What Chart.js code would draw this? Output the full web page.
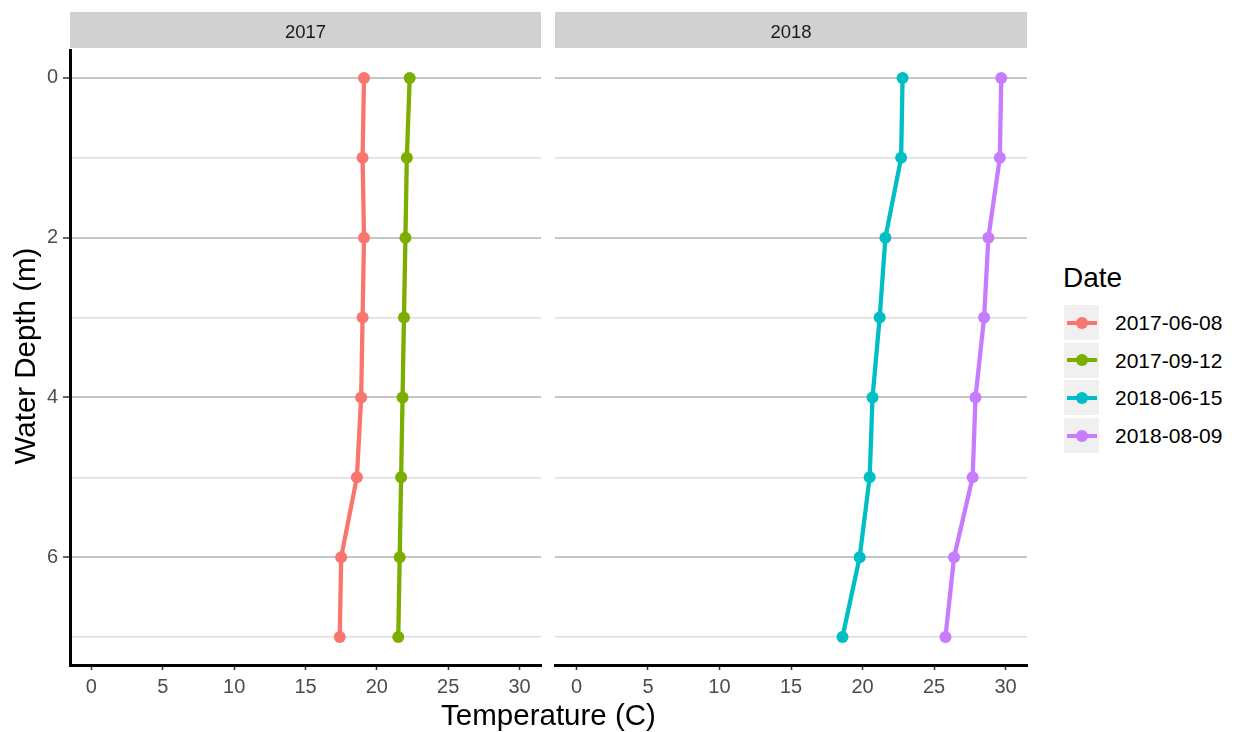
<!DOCTYPE html>
<html>
<head>
<meta charset="utf-8">
<script src="https://cdn.jsdelivr.net/npm/chart.js@4.4.0/dist/chart.umd.min.js"></script>
<style>
  body { margin: 0; width: 1234px; height: 732px; background: #fff; position: relative; overflow: hidden;
         font-family: "Liberation Sans", Arial, Helvetica, sans-serif; }
  canvas { position: absolute; top: 0; }
  .strip { position: absolute; top: 12px; height: 36px; background: #d1d1d1; color: #1a1a1a;
           font-size: 18.5px; text-align: center; line-height: 36px; }
  .strip span { position: relative; top: 2px; }
  .xtitle { position: absolute; left: 70px; width: 957px; top: 700px; height: 30px; line-height: 30px;
            font-size: 29.5px; text-align: center; color: #000; }
  .ytitle { position: absolute; left: -175px; top: 336px; width: 400px; height: 40px; line-height: 40px;
            font-size: 29.5px; text-align: center; color: #000; transform: rotate(-90deg); }
  .ltitle { position: absolute; left: 1063px; top: 264px; font-size: 28px; line-height: 28px; color: #000; }
  .lkey { position: absolute; left: 1064px; width: 35px; height: 35px; background: #f0f0f0; }
  .lkey .ln { position: absolute; left: 3px; width: 30px; top: 15.5px; height: 4px; }
  .lkey .pt { position: absolute; left: 11.5px; top: 11.5px; width: 12px; height: 12px; border-radius: 50%; }
  .llab { position: absolute; left: 1115px; height: 35px; line-height: 35px; font-size: 21px; color: #000; }
</style>
</head>
<body>
<canvas id="panel2017" width="547" height="732" style="left:0px;width:547px;height:732px"></canvas>
<canvas id="panel2018" width="484" height="732" style="left:549px;width:484px;height:732px"></canvas>
<div class="strip" style="left:70px;width:471px"><span id="strip0"></span></div>
<div class="strip" style="left:555px;width:472px"><span id="strip1"></span></div>
<div class="xtitle">Temperature (C)</div>
<div class="ytitle">Water Depth (m)</div>
<div class="ltitle">Date</div>
<div id="legend"></div>
<script>
// depth profiles
const depths = [0, 1, 2, 3, 4, 5, 6, 7];
const years = ["2017", "2018"];
const dates = ["2017-06-08", "2017-09-12", "2018-06-15", "2018-08-09"];
const temp20170608 = [19.1, 19.0, 19.1, 19.0, 18.9, 18.6, 17.5, 17.4];
const temp20170912 = [22.3, 22.1, 22.0, 21.9, 21.8, 21.7, 21.6, 21.5];
const temp20180615 = [22.8, 22.7, 21.6, 21.2, 20.7, 20.5, 19.8, 18.6];
const temp20180809 = [29.7, 29.6, 28.8, 28.5, 27.9, 27.7, 26.4, 25.8];
const colors = ["#F8766D", "#7CAE00", "#00BFC4", "#C77CFF"];
const xTicks = [0, 5, 10, 15, 20, 25, 30];
const yTicks = [0, 1, 2, 3, 4, 5, 6, 7];
const yLabels = ["0", "", "2", "", "4", "", "6", ""];

const tickFont = { family: "'Liberation Sans', Arial, sans-serif", size: 20 };

function makeDataset(label, temps, color) {
    return {
        label: label,
        data: depths.map((d, i) => ({ x: temps[i], y: d })),
        showLine: true,
        borderColor: color,
        backgroundColor: color,
        borderWidth: 4.3,
        pointRadius: 6,
        pointHoverRadius: 6,
        pointBorderWidth: 0,
        pointBackgroundColor: color
    };
}

function makePanel(id, datasets, showY) {
    const ctx = document.getElementById(id).getContext("2d");
    return new Chart(ctx, {
        type: "scatter",
        data: { datasets: datasets },
        options: {
            responsive: false,
            animation: false,
            layout: { padding: { top: 50, right: 0, bottom: 0, left: 0 } },
            plugins: { legend: { display: false }, tooltip: { enabled: false } },
            scales: {
                x: {
                    type: "linear",
                    min: -1.5,
                    max: 31.5,
                    afterBuildTicks: s => { s.ticks = xTicks.map(v => ({ value: v })); },
                    afterFit: s => { s.height = 67; },
                    grid: { drawOnChartArea: false, drawTicks: true, tickLength: 5, tickColor: "#333", tickWidth: 1.5 },
                    border: { display: true, color: "#000", width: 3 },
                    ticks: { color: "#4d4d4d", font: tickFont, padding: 5, maxRotation: 0, autoSkip: false }
                },
                y: {
                    type: "linear",
                    reverse: true,
                    min: -0.35,
                    max: 7.35,
                    afterBuildTicks: s => { s.ticks = yTicks.map(v => ({ value: v })); },
                    afterFit: s => { s.width = showY ? 70 : 0; },
                    grid: {
                        drawOnChartArea: true,
                        drawTicks: showY,
                        tickLength: 7,
                        color: c => (c.tick && c.tick.value % 2 === 0) ? "#c6c6c6" : "#dddddd",
                        lineWidth: c => (c.tick && c.tick.value % 2 === 0) ? 2 : 1.5,
                        tickColor: c => (c.tick && c.tick.value % 2 === 0) ? "#333" : "rgba(0,0,0,0)",
                        tickWidth: 1.5
                    },
                    border: { display: showY, color: "#000", width: 3 },
                    ticks: {
                        display: showY,
                        color: "#4d4d4d",
                        font: tickFont,
                        padding: 5,
                        autoSkip: false,
                        callback: (v, i) => yLabels[i]
                    }
                }
            }
        }
    });
}

makePanel("panel2017", [
    makeDataset(dates[0], temp20170608, colors[0]),
    makeDataset(dates[1], temp20170912, colors[1])
], true);

makePanel("panel2018", [
    makeDataset(dates[2], temp20180615, colors[2]),
    makeDataset(dates[3], temp20180809, colors[3])
], false);

document.getElementById("strip0").textContent = years[0];
document.getElementById("strip1").textContent = years[1];

// legend built from the same arrays
const legend = document.getElementById("legend");
dates.forEach((d, i) => {
    const top = 305 + i * 37.7;
    const key = document.createElement("div");
    key.className = "lkey";
    key.style.top = top + "px";
    key.innerHTML = `<div class="ln" style="background:${colors[i]}"></div><div class="pt" style="background:${colors[i]}"></div>`;
    legend.appendChild(key);
    const lab = document.createElement("div");
    lab.className = "llab";
    lab.style.top = top + "px";
    lab.textContent = d;
    legend.appendChild(lab);
});
</script>
</body>
</html>
